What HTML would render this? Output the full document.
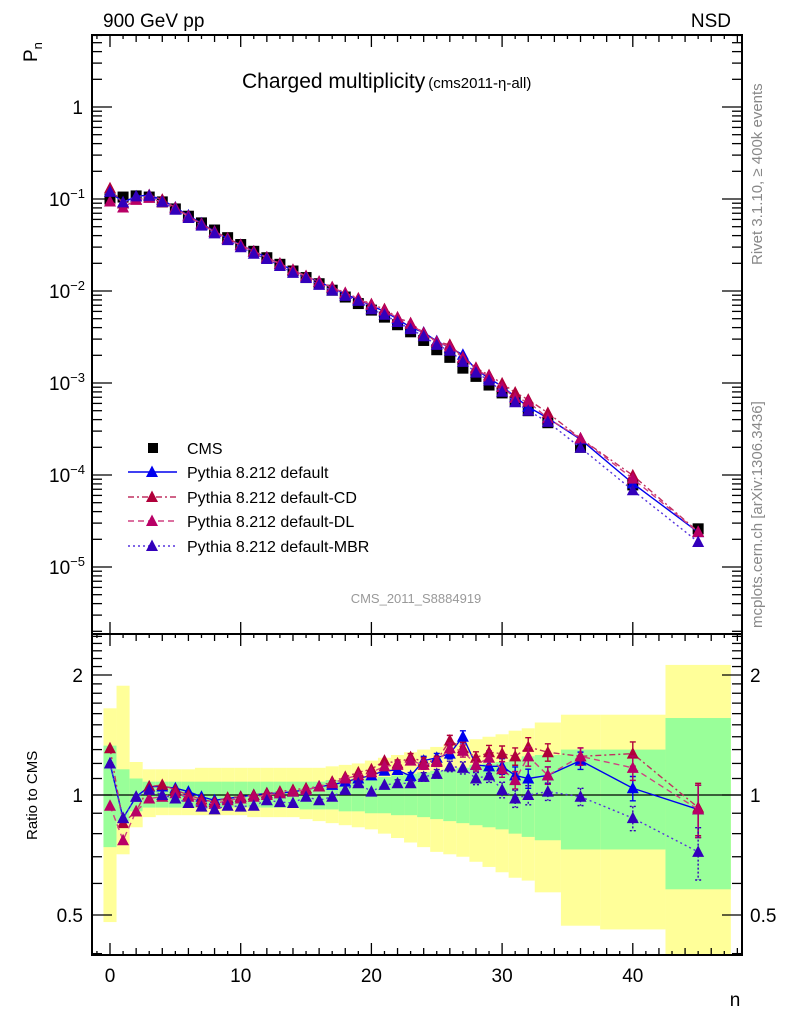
<!DOCTYPE html>
<html><head><meta charset="utf-8"><style>
html,body{margin:0;padding:0;background:#fff;}
svg{display:block;font-family:"Liberation Sans",sans-serif;}
</style></head><body>
<svg id="c" width="786" height="1024" viewBox="0 0 786 1024" xmlns="http://www.w3.org/2000/svg">
<defs>
<clipPath id="clipTop"><rect x="92" y="35" width="650" height="599"/></clipPath>
<clipPath id="clipBot"><rect x="92" y="634" width="650" height="321"/></clipPath>
</defs>
<g id="bands" clip-path="url(#clipBot)"></g>
<g id="grid"></g>
<g id="series"></g>
<text x="103" y="27" font-size="19">900 GeV pp</text>
<text x="731" y="27" font-size="19" text-anchor="end">NSD</text>
<text x="242" y="88" font-size="21">Charged multiplicity<tspan font-size="15" dx="3">(cms2011-η-all)</tspan></text>
<text x="416" y="603" font-size="13" fill="#999" text-anchor="middle">CMS_2011_S8884919</text>
<text transform="translate(37,62) rotate(-90)" font-size="19">P<tspan font-size="13" dy="5">n</tspan></text>
<text transform="translate(37,840) rotate(-90)" font-size="15">Ratio to CMS</text>
<text x="735" y="1006" font-size="19" text-anchor="middle">n</text>
<text transform="translate(762,265) rotate(-90)" font-size="15" fill="#888">Rivet 3.1.10, ≥ 400k events</text>
<text transform="translate(762,628) rotate(-90)" font-size="15" fill="#888">mcplots.cern.ch [arXiv:1306.3436]</text>
<g id="legend"></g>
</svg>
<script>
const nVals=[0,1,2,3,4,5,6,7,8,9,10,11,12,13,14,15,16,17,18,19,20,21,22,23,24,25,26,27,28,29,30,31,32,33.5,36,40,45];
const binEdges=[-0.5,0.5,1.5,2.5,3.5,4.5,5.5,6.5,7.5,8.5,9.5,10.5,11.5,12.5,13.5,14.5,15.5,16.5,17.5,18.5,19.5,20.5,21.5,22.5,23.5,24.5,25.5,26.5,27.5,28.5,29.5,30.5,31.5,32.5,34.5,37.5,42.5,47.5];
const cmsPn=[0.100,0.105,0.108,0.105,0.093,0.078,0.065,0.055,0.046,0.038,0.032,0.027,0.023,0.0195,0.0165,0.014,0.012,0.0102,0.0086,0.0073,0.0062,0.0052,0.0043,0.0036,0.0029,0.0023,0.0019,0.00145,0.00118,0.00095,0.00078,0.00063,0.0005,0.00037,0.000200,0.000078,0.000026];
const totUp=[1.65,1.88,1.21,1.16,1.16,1.16,1.16,1.17,1.17,1.17,1.17,1.17,1.17,1.17,1.17,1.17,1.17,1.18,1.19,1.2,1.22,1.24,1.26,1.28,1.30,1.32,1.34,1.36,1.38,1.40,1.42,1.45,1.47,1.52,1.59,1.59,2.12];
const totDn=[0.48,0.71,0.83,0.88,0.89,0.89,0.89,0.89,0.89,0.89,0.89,0.88,0.88,0.88,0.88,0.87,0.86,0.85,0.84,0.83,0.82,0.80,0.78,0.76,0.74,0.72,0.71,0.70,0.68,0.66,0.64,0.62,0.61,0.57,0.47,0.46,0.30];
const statUp=[1.33,1.16,1.10,1.08,1.08,1.08,1.08,1.08,1.08,1.08,1.08,1.08,1.08,1.08,1.08,1.08,1.08,1.09,1.09,1.10,1.10,1.11,1.12,1.13,1.14,1.15,1.16,1.17,1.19,1.20,1.21,1.23,1.25,1.26,1.30,1.30,1.56];
const statDn=[0.74,0.86,0.91,0.93,0.93,0.93,0.93,0.93,0.93,0.93,0.93,0.93,0.93,0.93,0.93,0.92,0.92,0.92,0.91,0.91,0.90,0.90,0.89,0.89,0.88,0.87,0.86,0.85,0.84,0.83,0.82,0.80,0.785,0.77,0.73,0.73,0.58];
const ratioDefault=[1.20,0.875,0.99,1.05,1.05,1.04,1.02,0.99,0.97,0.98,0.99,1.0,1.01,1.01,1.02,1.03,1.05,1.06,1.08,1.10,1.12,1.15,1.155,1.116,1.22,1.24,1.27,1.40,1.19,1.18,1.18,1.12,1.10,1.12,1.22,1.04,0.92];
const ratioCD=[1.31,0.85,0.91,1.05,1.06,1.03,1.00,0.975,0.96,0.985,0.99,1.0,1.01,1.02,1.03,1.04,1.05,1.08,1.11,1.14,1.16,1.22,1.20,1.245,1.21,1.22,1.37,1.31,1.24,1.28,1.27,1.25,1.32,1.28,1.25,1.27,0.93];
const ratioDL=[0.94,0.77,0.91,0.98,0.99,1.01,0.99,0.96,0.95,0.97,0.98,0.99,1.0,1.01,1.02,1.03,1.05,1.07,1.10,1.12,1.14,1.18,1.19,1.22,1.19,1.21,1.31,1.29,1.19,1.24,1.16,1.09,1.25,1.12,1.25,1.17,0.92];
const ratioMBR=[1.20,0.875,0.99,1.03,1.0,0.98,0.955,0.935,0.92,0.94,0.935,0.94,0.97,0.96,0.955,0.99,0.97,0.99,1.03,1.07,1.02,1.06,1.07,1.07,1.11,1.13,1.18,1.17,1.10,1.12,1.03,0.98,1.0,1.02,0.99,0.875,0.72];
const mcRelErr=[0.01,0.01,0.01,0.01,0.01,0.01,0.01,0.01,0.01,0.01,0.01,0.01,0.01,0.01,0.01,0.01,0.01,0.01,0.01,0.01,0.01,0.015,0.02,0.02,0.025,0.025,0.03,0.035,0.035,0.04,0.045,0.05,0.055,0.05,0.05,0.07,0.15];
const xTickLabels=[0,10,20,30,40];
const topTickExp=[0,-1,-2,-3,-4,-5];
const ratioTickLabels=[0.5,1,2];

const NS="http://www.w3.org/2000/svg";
const X0=92,X1=742,YT=35,YM=634,YB=955;
const xs=n=>110+13.07*n;
const yTop=p=>107-92*Math.log10(p);
const yRat=r=>795-120*Math.log2(r);
function mk(tag,attrs,parent){const e=document.createElementNS(NS,tag);for(const k in attrs)e.setAttribute(k,attrs[k]);parent.appendChild(e);return e;}
const bands=document.getElementById('bands');
const grid=document.getElementById('grid');
const series=document.getElementById('series');
const legend=document.getElementById('legend');

for(let i=0;i<nVals.length;i++){
  const xa=xs(binEdges[i]),xb=xs(binEdges[i+1]);
  const r1=mk('rect',{x:xa,y:yRat(totUp[i]),width:xb-xa,height:yRat(totDn[i])-yRat(totUp[i]),fill:'#ffff99'},bands);
  
  
  const r2=mk('rect',{x:xa,y:yRat(statUp[i]),width:xb-xa,height:yRat(statDn[i])-yRat(statUp[i]),fill:'#99ff99'},bands);
  
  
}
const ref=mk('line',{x1:X0,x2:X1,y1:yRat(1),y2:yRat(1),stroke:'#000','stroke-width':1.3},grid);



const f1=mk('rect',{x:X0,y:YT,width:X1-X0,height:YM-YT,fill:'none',stroke:'#000','stroke-width':2},grid);


const f2=mk('rect',{x:X0,y:YM,width:X1-X0,height:YB-YM,fill:'none',stroke:'#000','stroke-width':2},grid);



for(let n=-1;n<=48;n++){
  const x=xs(n);
  const L=(n%10===0)?12:(n%2===0?7:4);
  [[YT,1],[YM,1],[YB,-1],[YM,-1]].forEach(([y,d])=>{
    if(y===YM&&d===-1&&n%10!==0)return;
    const t=mk('line',{x1:x,x2:x,y1:y,y2:y+d*L,stroke:'#000','stroke-width':1.3},grid);
    
    
  });
}
xTickLabels.forEach(v=>{
  const t=mk('text',{x:xs(v),y:982,'font-size':19,'text-anchor':'middle'},grid);
  t.textContent=v;
  
  
});
for(let e=-6;e<=0;e++){
  for(let m=1;m<=9;m++){
    const y=yTop(m*Math.pow(10,e));
    if(y<YT||y>YM)continue;
    const L=m===1?20:10;
    [[X0,1],[X1,-1]].forEach(([x,d])=>{
      const t=mk('line',{x1:x,x2:x+d*L,y1:y,y2:y,stroke:'#000','stroke-width':1.3},grid);
      
      
    });
  }
}
topTickExp.forEach(e=>{
  const t=mk('text',{x:e===0?83:85,y:yTop(Math.pow(10,e))+7,'font-size':19,'text-anchor':'end'},grid);
  if(e===0){t.textContent='1';}
  else{t.textContent='10';const s=mk('tspan',{'font-size':13,dy:-8},t);s.textContent=String(e).replace('-','−');}
  
  
});
const rmin=[0.4,0.5,0.6,0.7,0.8,0.9,1,1.1,1.2,1.3,1.4,1.5,1.6,1.7,1.8,1.9,2,2.1,2.2,2.3,2.4,2.5];
rmin.forEach(r=>{
  const y=yRat(r);if(y<YM||y>YB)return;
  const L=(r===0.5||r===1||r===2)?20:10;
  [[X0,1],[X1,-1]].forEach(([x,d])=>{
    const t=mk('line',{x1:x,x2:x+d*L,y1:y,y2:y,stroke:'#000','stroke-width':1.3},grid);
    
    
  });
});
ratioTickLabels.forEach(r=>{
  const t=mk('text',{x:83,y:yRat(r)+7,'font-size':19,'text-anchor':'end'},grid);
  t.textContent=r;
  
  
  const t2=mk('text',{x:750,y:yRat(r)+7,'font-size':19},grid);
  t2.textContent=r;
  
  
});

const mcs=[
 {name:'default',r:ratioDefault,line:'#0000ee',mark:'#0000ee',dash:''},
 {name:'default-cd',r:ratioCD,line:'#c03060',mark:'#b0003a',dash:'6,3,2,3'},
 {name:'default-dl',r:ratioDL,line:'#d04080',mark:'#b80066',dash:'6,4'},
 {name:'default-mbr',r:ratioMBR,line:'#5533dd',mark:'#3300bb',dash:'2,3'}
];
function tri(g,x,y,c){return mk('polygon',{points:`${x},${y-6.5} ${x-6},${y+5} ${x+6},${y+5}`,fill:c},g);}
const gTop=mk('g',{'clip-path':'url(#clipTop)'},series);
const gBot=mk('g',{'clip-path':'url(#clipBot)'},series);
const cmsG=mk('g',{},gTop);


nVals.forEach((n,i)=>{
  const s=mk('rect',{x:xs(n)-5.5,y:yTop(cmsPn[i])-5.5,width:11,height:11,fill:'#000'},cmsG);
  
  
});
mcs.forEach(m=>{
  const gt=mk('g',{},gTop);
  
  
  const gb=mk('g',{},gBot);
  
  
  const ptT=nVals.map((n,i)=>xs(n)+','+yTop(cmsPn[i]*m.r[i])).join(' ');
  const ptB=nVals.map((n,i)=>xs(n)+','+yRat(m.r[i])).join(' ');
  const l1=mk('polyline',{points:ptT,fill:'none',stroke:m.line,'stroke-width':1.4,'stroke-dasharray':m.dash},gt);
  
  
  const l2=mk('polyline',{points:ptB,fill:'none',stroke:m.line,'stroke-width':1.4,'stroke-dasharray':m.dash},gb);
  
  
  nVals.forEach((n,i)=>{
    const x=xs(n),r=m.r[i],e=mcRelErr[i];
    if(e>0.015){
      const ya=yRat(r*(1+e)),yb=yRat(r*(1-e));
      const eb=mk('path',{d:`M${x},${ya}V${yb}M${x-3},${ya}h6M${x-3},${yb}h6`,stroke:m.mark,'stroke-width':1.4,'stroke-dasharray':m.dash==='2,3'?'2,2':'',fill:'none'},gb);
      
      
    }
    const p1=tri(gt,x,yTop(cmsPn[i]*r),m.mark);
    
    
    const p2=tri(gb,x,yRat(r),m.mark);
    
    
  });
});

const legY=[448,472,497,521,546];
const sq=mk('rect',{x:148,y:legY[0]-5,width:10,height:10,fill:'#000'},legend);


const labels=['CMS','Pythia 8.212 default','Pythia 8.212 default-CD','Pythia 8.212 default-DL','Pythia 8.212 default-MBR'];
labels.forEach((s,i)=>{
  const t=mk('text',{x:187,y:legY[i]+6,'font-size':16},legend);
  t.textContent=s;
  
  
  if(i>0){
    const m=mcs[i-1];
    const l=mk('line',{x1:128,x2:177,y1:legY[i],y2:legY[i],stroke:m.line,'stroke-width':1.4,'stroke-dasharray':m.dash},legend);
    
    
    const p=tri(legend,152,legY[i],m.mark);
    
    
  }
});
</script>
</body></html>
